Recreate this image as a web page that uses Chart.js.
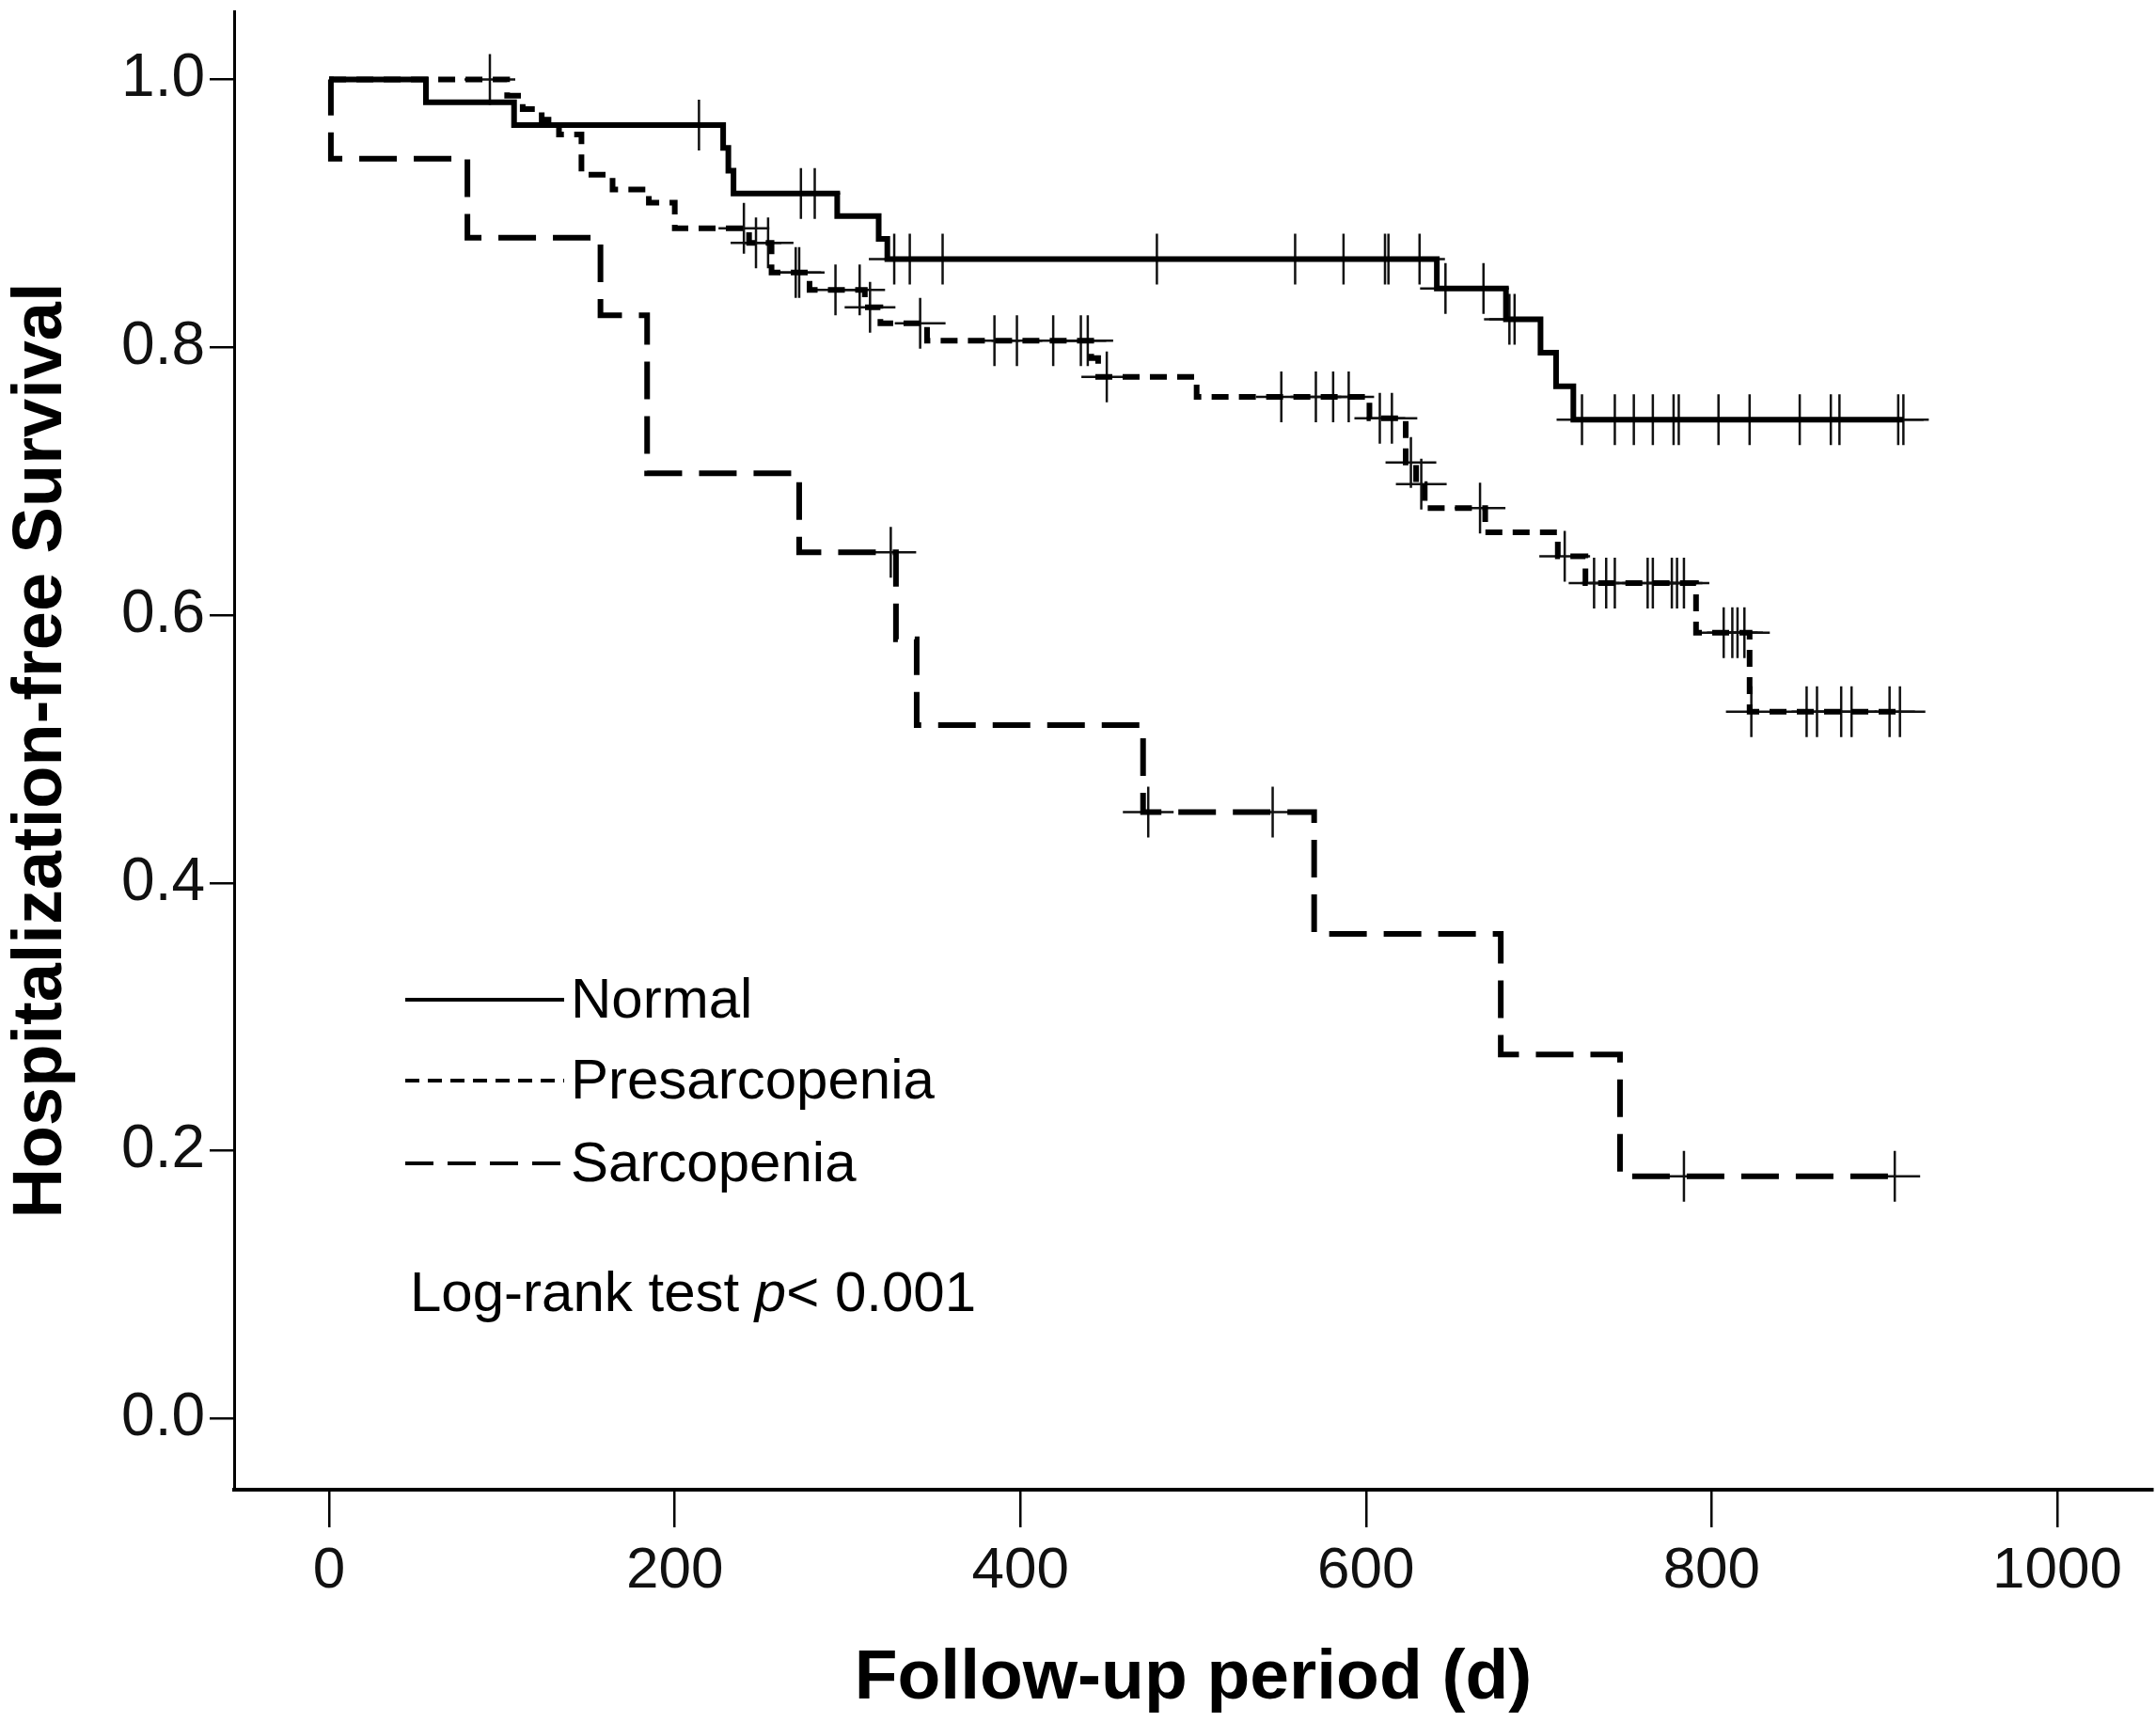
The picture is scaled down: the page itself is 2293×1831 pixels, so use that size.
<!DOCTYPE html>
<html>
<head>
<meta charset="utf-8">
<title>Hospitalization-free survival</title>
<script src="https://cdn.jsdelivr.net/npm/chart.js@4.4.1/dist/chart.umd.min.js"></script>
<style>
  html, body { margin: 0; padding: 0; background: #fff; }
  canvas { display: block; }
</style>
</head>
<body>
<canvas id="km" width="2293" height="1831"></canvas>
<script>
// Kaplan-Meier curves:
// day of each drop and the survival right after it (last entry = end of follow-up)
const groups = ['Normal', 'Presarcopenia', 'Sarcopenia']

const normalDays = [0, 56, 107, 228, 231, 234, 294, 318, 323, 641, 681, 701, 710, 720, 911]
const normalSurv = [1.0, 0.983, 0.966, 0.949, 0.932, 0.915, 0.898, 0.881, 0.866, 0.844, 0.821, 0.796, 0.771, 0.746, 0.746]
const normalCensored = [214, 273, 281, 327, 336, 355, 479, 559, 587, 611, 613, 631, 646, 668, 683, 686,
  725, 744, 755, 766, 778, 781, 804, 822, 851, 869, 874, 908, 911]

const presDays = [0, 103, 112, 123, 133, 146, 164, 185, 200, 243, 256, 278, 310, 319, 346, 441, 445,
  502, 602, 623, 629, 634, 669, 711, 727, 791, 822, 909]
const presSurv = [1.0, 0.988, 0.978, 0.970, 0.959, 0.929, 0.918, 0.908, 0.889, 0.878, 0.856, 0.843, 0.830,
  0.818, 0.805, 0.792, 0.778, 0.763, 0.747, 0.714, 0.698, 0.680, 0.662, 0.644, 0.624, 0.587, 0.528, 0.528]
const presCensored = [93, 240, 247, 254, 270, 272, 293, 307, 313, 342, 385, 398, 419, 435, 439, 450,
  551, 571, 581, 590, 608, 615, 626, 632, 666, 715, 732, 739, 744, 763, 766, 777, 780, 784,
  807, 812, 815, 819, 823, 855, 861, 875, 881, 903, 909]

const sarcoDays = [0, 1, 80, 157, 184, 272, 328, 340, 471, 570, 678, 747, 907]
const sarcoSurv = [1.0, 0.941, 0.882, 0.824, 0.706, 0.647, 0.582, 0.518, 0.453, 0.362, 0.272, 0.181, 0.181]
const sarcoCensored = [325, 474, 546, 784, 906]

const xTicks = [0, 200, 400, 600, 800, 1000]
const yTicks = [0, 0.2, 0.4, 0.6, 0.8, 1.0]

const FONT = "'Liberation Sans', Arial, Helvetica, sans-serif"

function stepPoints(days, surv) {
  return days.map((d, i) => ({x: d, y: surv[i]}))
}

// a censored case sits on the curve at the level in force that day
function censorPoints(times, days, surv) {
  return times.map(t => {
    let s = surv[0]
    for (let i = 0; i < days.length; i++) {
      if (days[i] <= t) s = surv[i]
    }
    return {x: t, y: s}
  })
}

// keep the plot box where it is in the figure: no extra room for edge labels
function noEdgePadding(s) {
  s.paddingTop = 0
  s.paddingBottom = 0
  s.paddingLeft = 0
  s.paddingRight = 0
}

const curveDash = [[], [18, 11], [40, 18]]
const legendDash = [[], [15, 9], [30, 15]]
const curves = [
  [normalDays, normalSurv, normalCensored],
  [presDays, presSurv, presCensored],
  [sarcoDays, sarcoSurv, sarcoCensored]
]

let datasets = []
curves.forEach((c, i) => {
  datasets.push({
    label: groups[i],
    data: stepPoints(c[0], c[1]),
    stepped: true,
    borderColor: '#000',
    borderWidth: 6,
    borderDash: curveDash[i],
    pointRadius: 0,
    fill: false
  })
})
curves.forEach((c, i) => {
  datasets.push({
    label: groups[i] + ' censored',
    data: censorPoints(c[2], c[0], c[1]),
    showLine: false,
    pointStyle: 'cross',
    pointRadius: 27,
    pointBorderWidth: 2.5,
    pointBorderColor: '#111',
    pointBackgroundColor: '#111'
  })
})

// legend rows and the log-rank note, drawn inside the plot area
const legendAndNote = {
  id: 'legendAndNote',
  afterDraw(chart) {
    const ctx = chart.ctx
    const a = chart.chartArea
    ctx.save()
    ctx.fillStyle = '#000'
    ctx.strokeStyle = '#000'
    ctx.textBaseline = 'middle'
    ctx.font = '60px ' + FONT
    const x0 = a.left + 182
    const rows = [a.top + 1051, a.top + 1137, a.top + 1225]
    groups.forEach((name, i) => {
      ctx.lineWidth = 4
      ctx.setLineDash(legendDash[i])
      ctx.beginPath()
      ctx.moveTo(x0, rows[i])
      ctx.lineTo(x0 + 169, rows[i])
      ctx.stroke()
      ctx.fillText(name, x0 + 176, rows[i] + 2)
    })
    ctx.setLineDash([])
    const ny = a.top + 1365
    let nx = a.left + 187
    const part1 = 'Log-rank test '
    ctx.fillText(part1, nx, ny)
    nx += ctx.measureText(part1).width
    ctx.font = 'italic 60px ' + FONT
    ctx.fillText('p', nx, ny)
    nx += ctx.measureText('p').width
    ctx.font = '60px ' + FONT
    ctx.fillText('< 0.001', nx, ny)
    ctx.restore()
  }
}

new Chart(document.getElementById('km'), {
  type: 'line',
  data: {datasets: datasets},
  plugins: [legendAndNote],
  options: {
    responsive: false,
    devicePixelRatio: 1,
    animation: false,
    events: [],
    layout: {autoPadding: false, padding: {left: 0, right: 4, top: 12, bottom: 0}},
    plugins: {legend: {display: false}, tooltip: {enabled: false}},
    scales: {
      x: {
        type: 'linear',
        min: -55,
        max: 1055,
        afterBuildTicks: s => { s.ticks = xTicks.map(v => ({value: v})) },
        afterFit: s => { s.height = 247; noEdgePadding(s) },
        ticks: {
          color: '#111',
          font: {family: FONT, size: 62},
          padding: 10,
          maxRotation: 0,
          callback: v => String(v)
        },
        grid: {drawOnChartArea: false, drawTicks: true, tickLength: 40, color: '#000', lineWidth: 2.5},
        border: {display: true, color: '#000', width: 4},
        title: {
          display: true,
          text: 'Follow-up period (d)',
          color: '#000',
          font: {family: FONT, size: 75, weight: 'bold'},
          padding: {top: 0, bottom: 1}
        }
      },
      y: {
        type: 'linear',
        min: -0.053,
        max: 1.051,
        afterBuildTicks: s => { s.ticks = yTicks.map(v => ({value: v})) },
        afterFit: s => { s.width = 249; noEdgePadding(s) },
        ticks: {
          color: '#111',
          font: {family: FONT, size: 64},
          padding: 5,
          callback: v => v.toFixed(1)
        },
        grid: {drawOnChartArea: false, drawTicks: true, tickLength: 26, color: '#000', lineWidth: 2.5},
        border: {display: true, color: '#000', width: 3},
        title: {
          display: true,
          text: 'Hospitalization-free Survival',
          color: '#000',
          font: {family: FONT, size: 74, weight: 'bold'},
          padding: {top: 0, bottom: 0}
        }
      }
    }
  }
})
</script>
</body>
</html>
